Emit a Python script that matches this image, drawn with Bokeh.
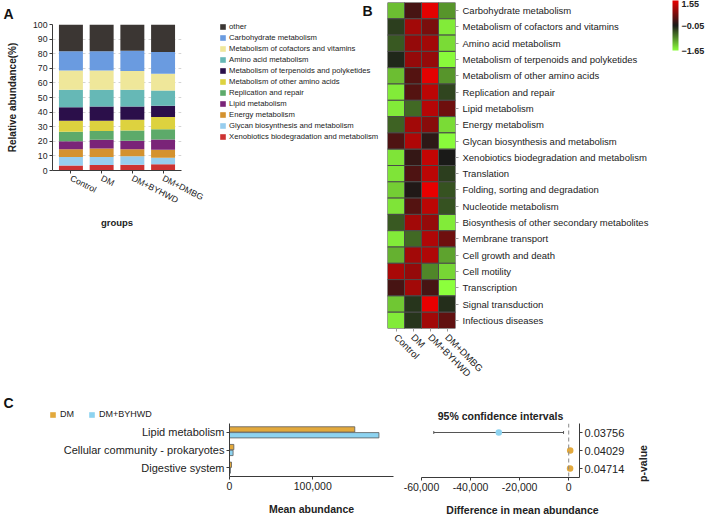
import math
from bokeh.plotting import figure
from bokeh.models import (ColumnDataSource, FactorRange, Range1d, Legend, LegendItem, Label, Title,
                          LinearColorMapper, ColorBar, FixedTicker, NumeralTickFormatter, Span,
                          CategoricalAxis)
from bokeh.transform import dodge, transform
from bokeh.layouts import column, row
from bokeh.embed import file_html
from bokeh.resources import INLINE

FONT = "Liberation Sans"
TXT = "#222222"
AX = "#3a3a3a"

# ---------------- Panel A data (relative abundance %, stacked bottom -> top) ----------------
groups = ["Control", "DM", "DM+BYHWD", "DM+DMBG"]
a_names = ["Xenobiotics biodegradation and metabolism", "Glycan biosynthesis and metabolism",
           "Energy metabolism", "Lipid metabolism", "Replication and repair",
           "Metabolism of other amino acids", "Metabolism of terpenoids and polyketides",
           "Amino acid metabolism", "Metabolism of cofactors and vitamins",
           "Carbohydrate metabolism", "other"]
xeno = [3.4, 3.8, 4.0, 4.3]
glycan = [5.8, 5.4, 5.7, 4.5]
energy = [5.4, 5.8, 4.9, 5.4]
lipid = [5.4, 6.0, 5.8, 7.1]
replication = [6.5, 6.0, 7.0, 7.0]
other_aa = [7.5, 7.0, 7.4, 8.3]
terpenoids = [9.4, 9.8, 9.0, 7.7]
amino_acid = [11.9, 11.5, 11.5, 10.5]
cofactors = [13.2, 13.2, 12.8, 11.5]
carbohydrate = [13.1, 13.1, 13.9, 14.8]
other = [18.4, 18.4, 18.0, 18.9]
a_ticks = [0, 10, 20, 30, 40, 50, 60, 70, 80, 90, 100]

# ---------------- Panel B data (z-scores) ----------------
hm_pathways = ["Carbohydrate metabolism", "Metabolism of cofactors and vitamins",
               "Amino acid metabolism", "Metabolism of terpenoids and polyketides",
               "Metabolism of other amino acids", "Replication and repair", "Lipid metabolism",
               "Energy metabolism", "Glycan biosynthesis and metabolism",
               "Xenobiotics biodegradation and metabolism", "Translation",
               "Folding, sorting and degradation", "Nucleotide metabolism",
               "Biosynthesis of other secondary metabolites", "Membrane transport",
               "Cell growth and death", "Cell motility", "Transcription",
               "Signal transduction", "Infectious diseases"]
z_control = [-1.2, -0.3, -0.5, -0.15, -1.2, -1.5, -1.5, -0.55, 0.35, -1.45,
             -1.45, -1.3, -1.45, -0.5, -1.5, -1.1, 1.05, 0.3, -1.25, -1.5]
z_dm = [0.3, 1.0, 0.9, 0.9, 0.4, 0.4, -0.6, 1.0, 1.1, 0.15,
        0.35, 0.0, 0.4, 1.0, -0.6, 1.0, 0.9, 1.0, -0.25, -0.25]
z_byhwd = [1.5, 0.7, 1.0, 0.9, 1.5, 1.2, 1.15, 0.8, 0.1, 1.25,
           1.2, 1.55, 1.2, 0.9, 1.1, 1.1, -0.8, 0.3, 1.55, 1.0]
z_dmbg = [-0.9, -1.5, -1.4, -1.6, -0.9, -0.35, 0.6, -1.4, -1.6, -0.05,
          -0.3, -0.45, -0.45, -1.5, 0.6, -1.0, -1.35, -1.65, -0.2, 0.5]
cbar_ticks = [-1.65, -0.05, 1.55]

# ---------------- Panel C data ----------------
c_cats = ["Lipid metabolism", "Cellular community - prokaryotes", "Digestive system"]
c_groups = ["DM", "DM+BYHWD"]
c_dm = [150500, 5200, 2400]
c_byhwd = [179500, 4300, 1100]
c_diff = [-28500, 600, 550]
c_lower = [-55000, 150, 100]
c_upper = [-2100, 1050, 1000]
c_pvals = ["0.03756", "0.04029", "0.04714"]
c_ticks_left = [0, 100000]
c_ticks_right = [-60000, -40000, -20000, 0]

# ---------------- styles ----------------
A_COLORS = ["#cd3232", "#97cdee", "#d4922f", "#7a2478", "#5daa6a", "#ddd23f",
            "#2b0f4a", "#66b8b6", "#efe79a", "#6a9be0", "#3b3633"]
ORANGE = "#e3a93c"
SKY = "#8dd3f0"


def style_axis(ax, size):
    ax.major_label_text_font = FONT
    ax.major_label_text_font_size = size
    ax.major_label_text_color = TXT
    ax.axis_label_text_font = FONT
    ax.axis_label_text_color = TXT
    ax.axis_label_text_font_style = "bold"
    ax.axis_line_color = AX
    ax.major_tick_line_color = AX
    ax.minor_tick_line_color = None
    ax.major_tick_in = 0
    ax.major_tick_out = 3


def base_fig(**kw):
    p = figure(output_backend="svg", toolbar_location=None, **kw)
    if "frame_align" in p.properties():
        p.frame_align = False
    p.outline_line_color = None
    p.xgrid.visible = False
    p.ygrid.visible = False
    return p


def blank_fig(w, h):
    # frame covers the whole canvas; units are pixels
    return base_fig(width=w, height=h, x_range=Range1d(0, w), y_range=Range1d(0, h),
                    x_axis_location=None, y_axis_location=None, min_border=0)


def letter_label(text, x, y):
    return Label(x=x, y=y, x_units="screen", y_units="screen", text=text,
                 text_font=FONT, text_font_size="14px", text_font_style="bold",
                 text_baseline="top", text_align="left", text_color="#111111")


def bold_label(text, x, y, angle=0):
    return Label(x=x, y=y, x_units="screen", y_units="screen", text=text, angle=angle,
                 text_align="center", text_baseline="middle", text_font=FONT,
                 text_font_size="10.5px", text_font_style="bold", text_color=TXT)


def swatch(fig, colr):
    # zero-size quad: only carries the legend swatch style
    return fig.quad(left=[0], right=[0], top=[0], bottom=[0], fill_color=colr, line_color=None)


# ================= Panel A =================
keys = ["xeno", "glycan", "energy", "lipid", "replication", "other_aa", "terpenoids",
        "amino_acid", "cofactors", "carbohydrate", "other"]
srcA = ColumnDataSource(dict(group=groups, xeno=xeno, glycan=glycan, energy=energy, lipid=lipid,
                             replication=replication, other_aa=other_aa, terpenoids=terpenoids,
                             amino_acid=amino_acid, cofactors=cofactors,
                             carbohydrate=carbohydrate, other=other))
pA = base_fig(width=210, height=385,
              x_range=FactorRange(*groups, range_padding=0.1, range_padding_units="absolute"),
              y_range=Range1d(0, 100),
              min_border_left=52, min_border_right=29, min_border_top=22, min_border_bottom=215)
rA = pA.vbar_stack(keys, x="group", width=0.78, color=A_COLORS, source=srcA, line_color=None)
pA.ygrid.visible = True
pA.ygrid.ticker = FixedTicker(ticks=a_ticks)
pA.ygrid.grid_line_color = "#d4d4d4"
pA.ygrid.grid_line_dash = "3 3"
pA.yaxis.ticker = FixedTicker(ticks=a_ticks)
style_axis(pA.xaxis[0], "8.7px")
style_axis(pA.yaxis[0], "8.7px")
pA.yaxis.major_label_standoff = 2
pA.yaxis.axis_label = "Relative abundance(%)"
pA.yaxis.axis_label_text_font_size = "10px"
pA.yaxis.axis_label_standoff = 12
pA.xaxis.major_label_orientation = -0.47
pA.xaxis.major_label_standoff = 4
pA.xaxis.axis_label = "groups"
pA.xaxis.axis_label_text_font_size = "9.5px"
pA.xaxis.axis_label_standoff = 5
pA.add_layout(Title(text="A", align="left", offset=-49, standoff=6, text_font=FONT,
                    text_font_size="14px", text_font_style="bold", text_color="#111111"), "above")

# legend strip for panel A (also holds the "B" panel letter)
legA_fig = blank_fig(177, 385)
legA_items = []
for i in reversed(range(len(keys))):
    legA_items.append(LegendItem(label=a_names[i], renderers=[swatch(legA_fig, A_COLORS[i])]))
legA = Legend(items=legA_items, location=(9, 244), orientation="vertical",
              glyph_width=7, glyph_height=7, label_height=9, spacing=2, padding=0, margin=0,
              label_standoff=3, border_line_color=None, background_fill_alpha=0,
              label_text_font=FONT, label_text_font_size="7.7px", label_text_color=TXT)
legA_fig.add_layout(legA)
legA_fig.add_layout(letter_label("B", 152, 383))

# ================= Panel B =================
hm_g, hm_p, hm_z = [], [], []
for g, col in zip(groups, [z_control, z_dm, z_byhwd, z_dmbg]):
    for name, z in zip(hm_pathways, col):
        hm_g.append(g)
        hm_p.append(name)
        hm_z.append(z)
srcB = ColumnDataSource(dict(group=hm_g, pathway=hm_p, z=hm_z))


def ramp(c0, c1, n):
    return ["#%02x%02x%02x" % tuple(int(round(a + (b - a) * k / (n - 1))) for a, b in zip(c0, c1))
            for k in range(n)]


palette = ramp((140, 255, 60), (26, 26, 24), 128) + ramp((26, 26, 24), (232, 0, 0), 128)
mapper = LinearColorMapper(palette=palette, low=cbar_ticks[0], high=cbar_ticks[-1])

pB = base_fig(width=319, height=385, x_range=FactorRange(*groups),
              y_range=FactorRange(*reversed(hm_pathways)), y_axis_location="right",
              min_border_left=0, min_border_right=251, min_border_top=2, min_border_bottom=53)
pB.rect(x="group", y="pathway", width=1, height=1, source=srcB,
        fill_color=transform("z", mapper), line_color="#4a4a4a", line_width=1)
style_axis(pB.xaxis[0], "9.5px")
style_axis(pB.yaxis[0], "9.5px")
for ax in (pB.xaxis[0], pB.yaxis[0]):
    ax.axis_line_color = None
    ax.major_tick_line_color = "#9a9a9a"
    ax.major_label_standoff = 4
pB.xaxis.major_label_orientation = -math.pi / 4
cb = ColorBar(color_mapper=mapper, ticker=FixedTicker(ticks=cbar_ticks), width=6, height=50,
              location=(285, 278), padding=0, label_standoff=3,
              major_label_text_font=FONT, major_label_text_font_size="9px",
              major_label_text_font_style="bold", major_label_text_color=TXT,
              major_tick_line_color=None, bar_line_color=None, border_line_color=None,
              background_fill_alpha=0)
pB.add_layout(cb)

# ================= Panel C =================
srcC = ColumnDataSource(dict(cat=c_cats, dm=c_dm, byhwd=c_byhwd, diff=c_diff, lower=c_lower,
                             upper=c_upper, color=[SKY if d < 0 else ORANGE for d in c_diff]))

# strip above the left chart: panel letter and legend
stripC = blank_fig(400, 38)
legC_items = [LegendItem(label=name, renderers=[swatch(stripC, colr)])
              for name, colr in zip(c_groups, [ORANGE, SKY])]
legC = Legend(items=legC_items, location=(49, 4), orientation="horizontal",
              glyph_width=7, glyph_height=7, label_height=9, spacing=8, padding=0, margin=0,
              label_standoff=4, border_line_color=None, background_fill_alpha=0,
              label_text_font=FONT, label_text_font_size="9px", label_text_color=TXT)
stripC.add_layout(legC)
stripC.add_layout(letter_label("C", 3, 29))

pC1 = base_fig(width=400, height=94, x_range=Range1d(0, 197000),
               y_range=FactorRange(*reversed(c_cats)),
               min_border_left=229, min_border_right=7, min_border_top=0, min_border_bottom=40)
pC1.hbar(y=dodge("cat", 0.165, range=pC1.y_range), left=0, right="dm", height=0.3,
         source=srcC, fill_color=ORANGE, line_color="#5a5a5a", line_width=0.8)
pC1.hbar(y=dodge("cat", -0.165, range=pC1.y_range), left=0, right="byhwd", height=0.3,
         source=srcC, fill_color=SKY, line_color="#5a5a5a", line_width=0.8)
style_axis(pC1.xaxis[0], "10.5px")
style_axis(pC1.yaxis[0], "11px")
pC1.xaxis.ticker = FixedTicker(ticks=c_ticks_left)
pC1.xaxis.formatter = NumeralTickFormatter(format="0,0")
pC1.xaxis.major_label_standoff = 2
pC1.yaxis.major_label_standoff = 2
pC1.xaxis.axis_label = "Mean abundance"
pC1.xaxis.axis_label_text_font_size = "10.5px"
pC1.xaxis.axis_label_standoff = 10

pC2 = base_fig(width=232, height=110, x_range=Range1d(-60000, 4400),
               y_range=FactorRange(*reversed(c_cats)), y_axis_location=None,
               min_border_left=21, min_border_right=53, min_border_top=38, min_border_bottom=18)
pC2.extra_y_ranges = {"p": FactorRange(*reversed(c_pvals))}
paxis = CategoricalAxis(y_range_name="p")
pC2.add_layout(paxis, "right")
style_axis(paxis, "11px")
paxis.major_label_standoff = 2
style_axis(pC2.xaxis[0], "10.5px")
pC2.xaxis.ticker = FixedTicker(ticks=c_ticks_right)
pC2.xaxis.formatter = NumeralTickFormatter(format="0,0")
pC2.xaxis.major_label_standoff = 2
pC2.add_layout(Title(text="95% confidence intervals", align="center", offset=22, standoff=4,
                     text_font=FONT, text_font_size="10.5px", text_font_style="bold",
                     text_color=TXT), "above")
pC2.add_layout(Span(location=0, dimension="height", line_color="#8a8a8a", line_dash="4 3",
                    line_width=1))
pC2.segment(x0="lower", x1="upper", y0="cat", y1="cat", source=srcC, line_color="#555555",
            line_width=1)
for f in ("lower", "upper"):
    pC2.segment(x0=f, x1=f, y0=dodge("cat", -0.08, range=pC2.y_range),
                y1=dodge("cat", 0.08, range=pC2.y_range), source=srcC,
                line_color="#555555", line_width=1)
pC2.scatter(x="diff", y="cat", size=6.5, source=srcC, fill_color="color", line_color=None)

# axis title strip under the CI chart, and the p-value axis title to its right
stripD = blank_fig(232, 22)
stripD.add_layout(bold_label("Difference in mean abundance", 122, 8))
stripP = blank_fig(74, 132)
stripP.add_layout(bold_label("p-value", 10, 54, math.pi / 2))

layout = column(row(pA, legA_fig, pB),
                row(column(stripC, pC1), column(pC2, stripD), stripP))
open("out.html", "w").write(file_html(layout, INLINE))
